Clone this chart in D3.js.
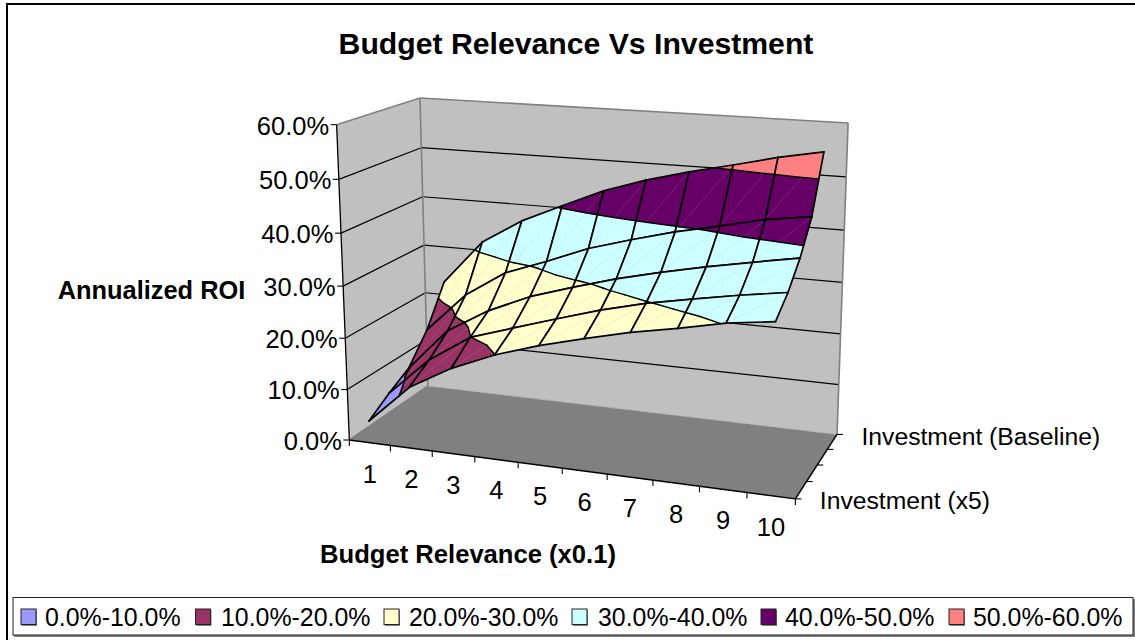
<!DOCTYPE html><html><head><meta charset="utf-8"><style>html,body{margin:0;background:#fff}svg{display:block}text{font-family:"Liberation Sans",Arial,sans-serif;fill:#000}</style></head><body><script src="https://cdn.jsdelivr.net/npm/d3@7"></script><script>
const categories=["1","2","3","4","5","6","7","8","9","10"];
const seriesLabels=["Investment (x5)","","","","Investment (Baseline)"];
const valueTicks=[0,0.1,0.2,0.3,0.4,0.5,0.6];
const bandLabels=["0.0%-10.0%","10.0%-20.0%","20.0%-30.0%","30.0%-40.0%","40.0%-50.0%","50.0%-60.0%"];
const bandColors=["#9999FF","#993366","#FFFFCC","#CCFFFF","#660066","#FF8080"];
const roiX5=[4.3,11.9,16.5,19.95,22.6,24.8,26.8,28.4,30.2,31.3];
const roiX4=[7.1,14.6,19.95,22.6,25.2,27.7,29.8,31.4,32.9,34.2];
const roiX3=[9.5,18.0,22.8,26.4,29.0,31.4,33.4,35.2,36.8,38.3];
const roiX2=[14.9,22.9,28.2,31.2,34.5,36.9,39.1,40.9,42.8,44.0];
const roiBase=[22.7,31.7,36.7,40.4,44.0,46.7,48.9,50.8,52.8,54.4];
const roi=[roiX5,roiX4,roiX3,roiX2,roiBase];

// camera: unit-box corners (x,y,z) seen on the page (u,v)
const corners=[[0,0,0,349.5,440],[0,1,0,337.3,124.3],[0,0,1,428,386],[0,1,1,420,97.7],[1,0,1,837.3,434],[1,0,0,795,499.3],[1,1,1,848.3,123.3],[0,5/6,0,338.3,179.3],[0,5/6,1,421,148.3],[1,5/6,1,846,176.7]];
function solve(cs){const A=[],b=[];for(const [x,y,z,u,v] of cs){A.push([x,y,z,1,0,0,0,0,-u*x,-u*y,-u*z]);b.push(u);A.push([0,0,0,0,x,y,z,1,-v*x,-v*y,-v*z]);b.push(v);}
const n=11,M=d3.range(n).map(i=>d3.range(n+1).map(j=>j<n?d3.sum(A,r=>r[i]*r[j]):d3.sum(A,(r,k)=>r[i]*b[k])));
for(let i=0;i<n;i++){let p=i;for(let k=i;k<n;k++)if(Math.abs(M[k][i])>Math.abs(M[p][i]))p=k;[M[i],M[p]]=[M[p],M[i]];for(let k=0;k<n;k++)if(k!=i){const f=M[k][i]/M[i][i];for(let j=i;j<=n;j++)M[k][j]-=f*M[i][j];}}
return M.map((r,i)=>r[n]/r[i]);}
const a=solve(corners);
const P=(x,y,z)=>{const w=a[8]*x+a[9]*y+a[10]*z+1;return [(a[0]*x+a[1]*y+a[2]*z+a[3])/w,(a[4]*x+a[5]*y+a[6]*z+a[7])/w];};

const xBand=d3.scaleBand().domain(categories).range([0,1]);
const xC=c=>xBand(c)+xBand.bandwidth()/2;
const zS=d3.scalePoint().domain(d3.range(roi.length)).range([0,1]);
const yV=d3.scaleLinear().domain([0,0.6]).range([0,1]);
const fmt=d3.format(".1%");

const svg=d3.select("body").append("svg").attr("width",1135).attr("height",640);
svg.append("rect").attr("x",7).attr("y",4).attr("width",1140).attr("height",650).attr("fill","#fff").attr("stroke","#000").attr("stroke-width",2);
const line=d3.line();
const poly=(g,pts,fill,stroke,w)=>g.append("path").attr("d",line(pts)+"Z").attr("fill",fill).attr("stroke",stroke||"none").attr("stroke-width",w||0);
const seg=(g,p,q,stroke,w,o)=>g.append("line").attr("x1",p[0]).attr("y1",p[1]).attr("x2",q[0]).attr("y2",q[1]).attr("stroke",stroke).attr("stroke-width",w).attr("stroke-opacity",o==null?1:o);

const box=svg.append("g");
poly(box,[P(0,0,0),P(0,1,0),P(0,1,1),P(0,0,1)],"#C0C0C0");
poly(box,[P(0,0,1),P(0,1,1),P(1,1,1),P(1,0,1)],"#C0C0C0");
poly(box,[P(0,0,0),P(0,0,1),P(1,0,1),P(1,0,0)],"#808080");
valueTicks.slice(1,-1).forEach(v=>{const y=yV(v);seg(box,P(0,y,0),P(0,y,1),"#000",1.2);seg(box,P(0,y,1),P(1,y,1),"#000",1.2);});
[[P(0,1,0),P(0,1,1)],[P(0,1,1),P(1,1,1)],[P(1,1,1),P(1,0,1)],[P(0,1,1),P(0,0,1)],[P(0,0,0),P(0,0,1)]].forEach(s=>seg(box,s[0],s[1],"#808080",1.6));
seg(box,P(0,0,1),P(1,0,1),"#A8A8A8",1).attr("stroke-dasharray","9 4");
seg(box,P(0,0,0),P(0,1,0),"#000",1.3);
seg(box,P(0,0,0),P(1,0,0),"#000",1.5);
seg(box,P(1,0,0),P(1,0,1),"#000",1.5);
// ticks
valueTicks.forEach(v=>{const p=P(0,yV(v),0);seg(box,p,[p[0]-6,p[1]],"#000",1.1);
 box.append("text").attr("x",p[0]-7.5).attr("y",p[1]+1).attr("dy",".35em").attr("text-anchor","end").attr("font-size",25.5).text(fmt(v));});
d3.range(11).forEach(i=>{const p=P(i/10,0,0);seg(box,p,[p[0],p[1]+6],"#000",1.1);});
categories.forEach(c=>{const p=P(xC(c),0,0);box.append("text").attr("x",p[0]).attr("y",p[1]+31).attr("dy",".35em").attr("text-anchor","middle").attr("font-size",25.5).text(c);});
seriesLabels.forEach((s,i)=>{const p=P(1,0,zS(i));seg(box,p,[p[0]+6,p[1]],"#000",1.1);if(s)box.append("text").attr("x",p[0]+24.5).attr("y",p[1]+1.5).attr("dy",".35em").attr("font-size",24.7).text(s);});

// surface
const sf=svg.append("g");
const thresholds=d3.range(bandColors.length+1).map(i=>i*10);
const proj=n=>P(n[0],yV(n[1]/100),n[2]);
const lerp=(p,q,t)=>[p[0]+(q[0]-p[0])*t,p[1]+(q[1]-p[1])*t,p[2]+(q[2]-p[2])*t];
function clip(t,lim,keepAbove){const out=[];t.forEach((p,i)=>{const q=t[(i+1)%t.length],pi=keepAbove?p[1]>=lim:p[1]<=lim,qi=keepAbove?q[1]>=lim:q[1]<=lim;if(pi)out.push(p);if(pi!==qi)out.push(lerp(p,q,(lim-p[1])/(q[1]-p[1])));});return out;}
function tri(g,t){bandColors.forEach((col,b)=>{let c=clip(t,thresholds[b],true);if(c.length>2)c=clip(c,thresholds[b+1],false);if(c.length>2)poly(g,c.map(proj),col,col,0.4);});}
function contour(g,t){thresholds.slice(1,-1).forEach(l=>{const pts=[];t.forEach((p,i)=>{const q=t[(i+1)%3];if((p[1]-l)*(q[1]-l)<0)pts.push(lerp(p,q,(l-p[1])/(q[1]-p[1])));});if(pts.length==2)seg(g,proj(pts[0]),proj(pts[1]),"#000",1.5).attr("stroke-linecap","round");});}
for(let r=roi.length-2;r>=0;r--)for(let c=0;c<categories.length-1;c++){
 const g=sf.append("g");
 const A=[xC(categories[c]),roi[r][c],zS(r)],B=[xC(categories[c+1]),roi[r][c+1],zS(r)],C=[xC(categories[c+1]),roi[r+1][c+1],zS(r+1)],D=[xC(categories[c]),roi[r+1][c],zS(r+1)];
 tri(g,[A,B,C]);tri(g,[A,C,D]);
 seg(g,proj(A),proj(C),"#aaaaaa",0.5,0.22);
 contour(g,[A,B,C]);contour(g,[A,C,D]);
 [[A,B],[B,C],[C,D],[D,A]].forEach(e=>seg(g,proj(e[0]),proj(e[1]),"#000",1.7).attr("stroke-linecap","round"));
}
// titles
svg.append("text").attr("x",576).attr("y",43).attr("dy",".35em").attr("text-anchor","middle").attr("font-size",30.2).attr("font-weight","bold").text("Budget Relevance Vs Investment");
svg.append("text").attr("x",151.5).attr("y",290).attr("dy",".35em").attr("text-anchor","middle").attr("font-size",25.4).attr("font-weight","bold").text("Annualized ROI");
svg.append("text").attr("x",468).attr("y",554).attr("dy",".35em").attr("text-anchor","middle").attr("font-size",25.6).attr("font-weight","bold").text("Budget Relevance (x0.1)");
// legend
const lg=svg.append("g");
lg.append("rect").attr("x",14).attr("y",599).attr("width",1121).attr("height",38).attr("fill","#808080");
lg.append("rect").attr("x",13).attr("y",597.5).attr("width",1120).attr("height",37.5).attr("fill","#fff").attr("stroke","#222").attr("stroke-width",1);
const swX=[21,195.5,384,572,761,949],txX=[45,221,409,598,785,973];
bandLabels.forEach((t,i)=>{
 lg.append("rect").attr("x",swX[i]+1).attr("y",610).attr("width",15).attr("height",16).attr("fill","#808080");
 lg.append("rect").attr("x",swX[i]).attr("y",609).attr("width",15).attr("height",15.5).attr("fill",bandColors[i]).attr("stroke","#222").attr("stroke-width",1);
 lg.append("text").attr("x",txX[i]).attr("y",617).attr("dy",".35em").attr("font-size",24.9).text(t);
});
</script></body></html>
